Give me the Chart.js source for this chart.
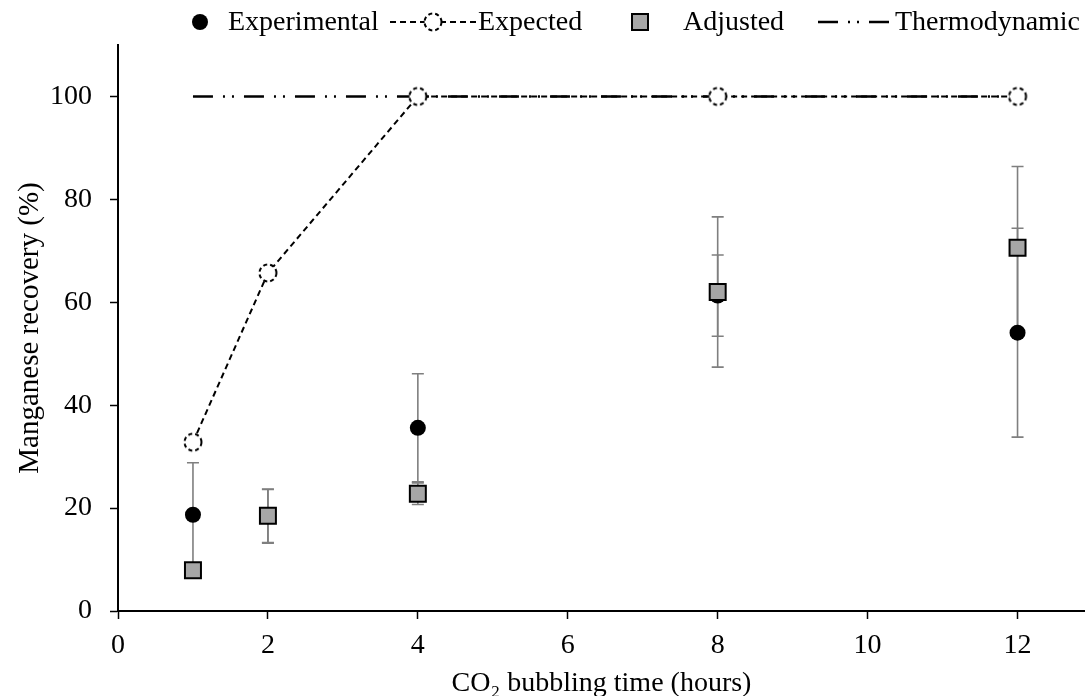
<!DOCTYPE html>
<html><head><meta charset="utf-8">
<script src="https://cdn.jsdelivr.net/npm/chart.js@4/dist/chart.umd.min.js"></script>
<style>html,body{margin:0;padding:0;background:#fff;overflow:hidden}#wrap{width:1085px;height:696px;position:relative;overflow:hidden}</style>
</head><body><div id="wrap"><canvas id="c" width="1085" height="696"></canvas></div>
<script>
// ---- data ----
const hours = [1, 2, 4, 8, 12];
const experimental = [18.7, 18.4, 35.6, 61.3, 54.1];
const experimentalErr = [10.1, 5.2, 10.5, 7.9, 20.3];
const adjusted = [7.9, 18.5, 22.8, 62.0, 70.6];
const adjustedErr = [0.8, 5.2, 2.1, 14.6, 15.8];
const expected = [32.8, 65.7, 100, 100, 100];
const thermoHours = [1, 12];
const thermodynamic = [100, 100];
const xTicks = [0, 2, 4, 6, 8, 10, 12];
const yTicks = [0, 20, 40, 60, 80, 100];
const legendLabels = ['Experimental', 'Expected', 'Adjusted', 'Thermodynamic'];

const FONT = "'Liberation Serif', 'Times New Roman', serif";
const FS = 28;
const GREY = '#a6a6a6';
const THERMO_DASH = [20, 10, 2, 7, 2, 10];
const EXP_DASH = [6, 4];

function dashedCircleImage() {
  const c = document.createElement('canvas');
  c.width = 22; c.height = 22;
  const g = c.getContext('2d');
  g.beginPath();
  g.arc(11, 11, 8.5, 0, Math.PI * 2);
  g.fillStyle = '#fff'; g.fill();
  g.setLineDash([4, 3]);
  g.lineWidth = 2; g.strokeStyle = '#000';
  g.stroke();
  return c;
}
const openCircle = dashedCircleImage();

const errorBars = {
  id: 'errorBars',
  beforeDatasetsDraw(chart) {
    const ctx = chart.ctx, xs = chart.scales.x, ys = chart.scales.y;
    ctx.save();
    ctx.strokeStyle = '#7f7f7f';
    ctx.lineWidth = 1.6;
    [[experimental, experimentalErr], [adjusted, adjustedErr]].forEach(([vals, errs]) => {
      vals.forEach((v, i) => {
        const x = xs.getPixelForValue(hours[i]);
        const yt = ys.getPixelForValue(v + errs[i]);
        const yb = ys.getPixelForValue(v - errs[i]);
        ctx.beginPath();
        ctx.moveTo(x, yt); ctx.lineTo(x, yb);
        ctx.moveTo(x - 6, yt); ctx.lineTo(x + 6, yt);
        ctx.moveTo(x - 6, yb); ctx.lineTo(x + 6, yb);
        ctx.stroke();
      });
    });
    ctx.restore();
  }
};

const customLegend = {
  id: 'customLegend',
  afterDraw(chart) {
    const ctx = chart.ctx;
    const y = 22;
    ctx.save();
    ctx.font = FS + 'px ' + FONT;
    ctx.fillStyle = '#000';
    ctx.textBaseline = 'middle';
    ctx.textAlign = 'left';
    // Experimental
    ctx.beginPath(); ctx.arc(200, y, 8, 0, Math.PI * 2); ctx.fill();
    ctx.fillText(legendLabels[0], 228, y + 1);
    // Expected
    ctx.beginPath(); ctx.setLineDash(EXP_DASH); ctx.lineWidth = 2; ctx.strokeStyle = '#000';
    ctx.moveTo(390, y); ctx.lineTo(476, y); ctx.stroke();
    ctx.setLineDash([]);
    ctx.drawImage(openCircle, 433 - 11, y - 11);
    ctx.fillText(legendLabels[1], 478, y + 1);
    // Adjusted
    ctx.fillStyle = GREY; ctx.fillRect(632, y - 8, 16, 16);
    ctx.strokeStyle = '#000'; ctx.lineWidth = 2; ctx.strokeRect(632, y - 8, 16, 16);
    ctx.fillStyle = '#000';
    ctx.fillText(legendLabels[2], 683, y + 1);
    // Thermodynamic
    ctx.beginPath(); ctx.setLineDash(THERMO_DASH); ctx.lineWidth = 2.5;
    ctx.moveTo(818, y); ctx.lineTo(893, y); ctx.stroke();
    ctx.setLineDash([]);
    ctx.fillText(legendLabels[3], 895, y + 1);
    ctx.restore();
  }
};

new Chart(document.getElementById('c'), {
  type: 'scatter',
  data: {
    datasets: [
      {
        label: legendLabels[2],
        data: hours.map((h, i) => ({x: h, y: adjusted[i]})),
        pointStyle: 'rect', pointRadius: 11.3, pointHoverRadius: 11.3,
        backgroundColor: GREY, borderColor: '#000', borderWidth: 2,
        showLine: false
      },
      {
        label: legendLabels[0],
        data: hours.map((h, i) => ({x: h, y: experimental[i]})),
        pointStyle: 'circle', pointRadius: 8, pointHoverRadius: 8,
        backgroundColor: '#000', borderColor: '#000', borderWidth: 0,
        showLine: false
      },
      {
        label: legendLabels[1],
        data: hours.map((h, i) => ({x: h, y: expected[i]})),
        showLine: true, borderColor: '#000', borderWidth: 2, borderDash: EXP_DASH,
        pointStyle: openCircle, pointRadius: 9, backgroundColor: '#fff', tension: 0
      },
      {
        label: legendLabels[3],
        data: thermoHours.map((h, i) => ({x: h, y: thermodynamic[i]})),
        showLine: true, borderColor: '#000', borderWidth: 2.6, borderDash: THERMO_DASH,
        pointRadius: 0, pointHoverRadius: 0, tension: 0
      }
    ]
  },
  options: {
    responsive: false,
    animation: false,
    devicePixelRatio: 1,
    layout: {autoPadding: false, padding: {top: 45, right: 0, left: 0, bottom: 0}},
    plugins: {legend: {display: false}, tooltip: {enabled: false}},
    scales: {
      x: {
        type: 'linear', min: 0, max: 12.9,
        afterBuildTicks(s) { s.ticks = xTicks.map(v => ({value: v})); },
        afterFit(s) { s.height = 85; },
        grid: {drawOnChartArea: false, drawTicks: true, tickLength: 8, tickColor: '#000', tickWidth: 1.5},
        border: {display: true, color: '#000', width: 2},
        ticks: {color: '#000', font: {family: FONT, size: FS}, padding: 10, maxRotation: 0, autoSkip: false},
        title: {display: true, text: 'CO₂ bubbling time (hours)', color: '#000',
                font: {family: FONT, size: FS, lineHeight: 0.9}, padding: {top: 0, bottom: 0}}
      },
      y: {
        type: 'linear', min: 0, max: 110,
        afterBuildTicks(s) { s.ticks = yTicks.map(v => ({value: v})); },
        afterFit(s) { s.width = 118; },
        grid: {drawOnChartArea: false, drawTicks: true, tickLength: 8, tickColor: '#000', tickWidth: 1.5},
        border: {display: true, color: '#000', width: 2},
        ticks: {color: '#000', font: {family: FONT, size: FS}, padding: 18, autoSkip: false},
        title: {display: true, text: 'Manganese recovery (%)', color: '#000',
                font: {family: FONT, size: 29, lineHeight: 1.2}, padding: {top: 13, bottom: 0}}
      }
    }
  },
  plugins: [errorBars, customLegend]
});
</script>
</body></html>
